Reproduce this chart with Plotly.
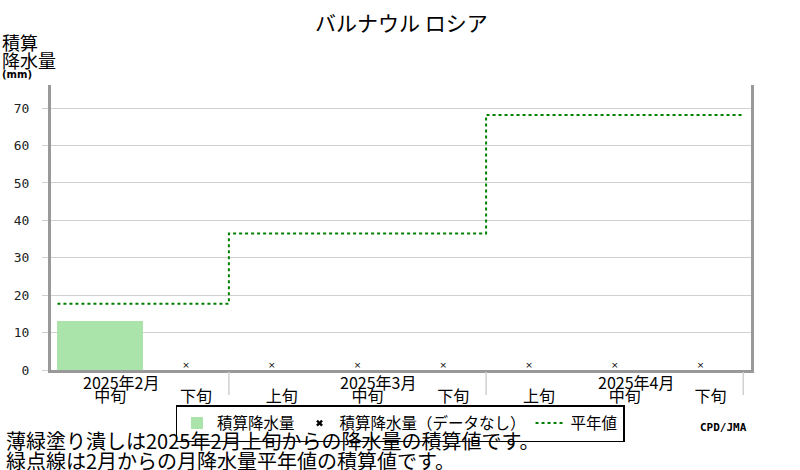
import plotly.graph_objects as go

# 旬ごとのカテゴリ（2025年2月中旬〜4月下旬）
dekads = ["中旬", "下旬", "上旬", "中旬", "下旬", "上旬", "中旬", "下旬"]
months = ["2025年2月", "2025年3月", "2025年4月"]
month_label_idx = [0, 3, 6]        # 月ラベルを置く旬
month_end_idx = [1.5, 4.5, 7.5]    # 月の区切り

# 積算降水量（観測あり）
precip_idx = [0]
precip_val = [13.0]
# データなしの旬
missing_idx = [1, 2, 3, 4, 5, 6, 7]

# 平年値の積算（月ごと）
normal_edges = [-0.5, 1.5, 4.5, 7.5]
normal_val = [17.7, 36.5, 68.2, 68.2]

JP = "Noto Sans CJK JP"
GREEN_FILL = "#aae4aa"
GRID = "#d0d0d0"
AXIS = "#999999"

# plot area in pixels
L, R, T, B = 51, 49, 85, 100
PH = 470 - T - B


def py(p):
    # pixel row -> paper y
    return (470 - B - p) / PH


fig = go.Figure()

fig.add_trace(go.Bar(
    x=precip_idx, y=precip_val, width=1.0,
    marker=dict(color=GREEN_FILL, line=dict(width=0)),
    name="積算降水量"))

# データなしマーク（図中）
fig.add_trace(go.Scatter(
    x=missing_idx, y=[0] * len(missing_idx), mode="text",
    text=["×"] * len(missing_idx), textposition="top center",
    textfont=dict(size=9, color="#000", family="DejaVu Sans"),
    showlegend=False, cliponaxis=False, hoverinfo="skip"))
# 凡例用
fig.add_trace(go.Scatter(
    x=[None], y=[None], mode="markers",
    marker=dict(symbol="x", size=6, color="#000"),
    name="積算降水量（データなし）"))

fig.add_trace(go.Scatter(
    x=normal_edges, y=normal_val, mode="lines", line_shape="hv",
    line=dict(color="#008000", width=2, dash="dot"),
    name="平年値"))

# 月区切りの縦線
for xe in month_end_idx:
    fig.add_shape(type="line", xref="x", yref="paper",
                  x0=xe, x1=xe, y0=py(372), y1=py(395),
                  line=dict(color=GRID, width=1.5))

annos = []
for m, i in zip(months, month_label_idx):
    annos.append(dict(x=i, y=py(368), xref="x", yref="paper", text=m,
                      showarrow=False, xanchor="left", yanchor="top",
                      xshift=-19, font=dict(family=JP, size=16, color="#000")))

annos.append(dict(x=0.5, xref="paper", y=py(22), yref="paper",
                  text="バルナウル ロシア", showarrow=False, yanchor="middle",
                  font=dict(family=JP, size=21, color="#000")))

side = [
    ("積算", 42, 18, False),
    ("降水量", 60, 18, False),
    ("(mm)", 74, 10, True),
]
for t, p, fs, bold in side:
    annos.append(dict(
        x=0, y=py(p), xref="paper", yref="paper",
        text=("<b>%s</b>" % t) if bold else t,
        showarrow=False, xanchor="left", yanchor="middle", xshift=-L,
        font=dict(family="DejaVu Sans" if bold else JP, size=fs, color="#000")))

notes = [
    ("薄緑塗り潰しは2025年2月上旬からの降水量の積算値です。", 441),
    ("緑点線は2月からの月降水量平年値の積算値です。", 460),
]
for t, p in notes:
    annos.append(dict(
        x=0, y=py(p), xref="paper", yref="paper", text=t, showarrow=False,
        xanchor="left", yanchor="middle", xshift=-L + 4,
        font=dict(family=JP, size=20, color="#000")))

annos.append(dict(
    x=1, y=py(427), xref="paper", yref="paper", text="<b>CPD/JMA</b>",
    showarrow=False, xanchor="right", yanchor="middle", xshift=-2,
    font=dict(family="DejaVu Sans Mono", size=11, color="#000")))

fig.update_layout(
    width=800, height=470,
    margin=dict(l=L, r=R, t=T, b=B, autoexpand=False),
    paper_bgcolor="white", plot_bgcolor="white",
    bargap=0,
    font=dict(family=JP, color="#000"),
    annotations=annos,
    showlegend=True,
    legend=dict(orientation="h", x=(400 - L) / 700, xanchor="center",
                y=py(405), yanchor="top",
                bordercolor="#000", borderwidth=1.5, bgcolor="white",
                font=dict(family=JP, size=15.5, color="#000"),
                itemwidth=30),
)

fig.update_xaxes(
    range=[-0.575, 7.59], tickmode="array",
    tickvals=list(range(len(dekads))), ticktext=dekads,
    ticklabelshift=10, ticklabelstandoff=10, ticks="",
    showgrid=False, zeroline=False,
    showline=True, linecolor=AXIS, linewidth=3,
    tickfont=dict(family=JP, size=16, color="#000"))

fig.update_yaxes(
    range=[0, 76.2], tickmode="linear", tick0=0, dtick=10,
    showgrid=True, gridcolor=GRID, gridwidth=1, zeroline=False,
    ticks="outside", ticklen=6, tickcolor=GRID, ticklabelstandoff=10,
    showline=True, mirror=True, linecolor=AXIS, linewidth=3,
    tickfont=dict(family="DejaVu Sans Mono", size=13, color="#222"))

fig.write_html("out.html", config={"displayModeBar": False},
               post_script="document.body.style.margin='0';")
